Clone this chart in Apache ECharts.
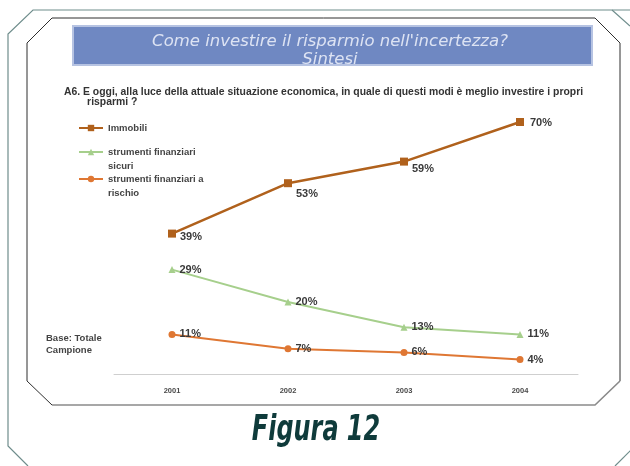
<!DOCTYPE html>
<html>
<head>
<meta charset="utf-8">
<script src="https://cdn.jsdelivr.net/npm/echarts@6/dist/echarts.min.js"></script>
<style>
  html, body { margin: 0; padding: 0; background: #fff; }
  #chart { width: 630px; height: 466px; }
</style>
</head>
<body>
<div id="chart"></div>
<script>
// anni
const years = ['2001', '2002', '2003', '2004']
// quote % per modalità di investimento
const immobili = [39, 53, 59, 70]
const sicuri = [29, 20, 13, 11]
const rischio = [11, 7, 6, 4]

const seriesNames = ['Immobili', 'strumenti finanziari\nsicuri', 'strumenti finanziari a\nrischio']

// spostamento delle etichette di Immobili (sotto la linea sui primi punti)
const immobiliLabelShift = [[0, 3], [0, 11], [0, 7], [2, 1]]

const baseFont = 'Arial, Liberation Sans, sans-serif'

const labelStyle = {
  show: true,
  position: 'right',
  distance: 4,
  fontSize: 11,
  fontWeight: 'bold',
  color: '#3a3a3a',
  fontFamily: baseFont,
  formatter: '{c}%'
}

const legendText = {
  fontSize: 9.5,
  fontWeight: 'bold',
  color: '#444',
  lineHeight: 14,
  fontFamily: baseFont
}

const frameColor = '#6f8d8c'
const innerColor = '#2e2e2e'

let chart = echarts.init(document.getElementById('chart'), null, { renderer: 'canvas' })

// una legenda per voce: l'icona resta sulla prima riga del testo
function legendAt (name, top, twoLines) {
  return {
    orient: 'vertical',
    left: 78,
    top: top,
    padding: 0,
    itemWidth: 24,
    itemHeight: 8,
    data: [name],
    formatter: n => (twoLines ? '\n' + n : n),
    textStyle: legendText
  }
}

let option = {
  backgroundColor: '#fff',
  animation: false,
  title: {
    text: "Come investire il risparmio nell'incertezza?\nSintesi",
    left: 325,
    top: 28,
    textAlign: 'center',
    textStyle: {
      color: '#dde3f3',
      fontSize: 16.5,
      fontStyle: 'italic',
      fontWeight: 'normal',
      lineHeight: 18,
      fontFamily: "'DejaVu Sans', sans-serif"
    }
  },
  legend: [
    legendAt(seriesNames[0], 121, false),
    legendAt(seriesNames[1], 131, true),
    legendAt(seriesNames[2], 158, true)
  ],
  grid: {
    left: 114,
    right: 52,
    top: 86,
    bottom: 92
  },
  xAxis: {
    type: 'category',
    data: years,
    boundaryGap: true,
    axisLine: { lineStyle: { color: '#cfcfcf', width: 1 } },
    axisTick: { show: false },
    axisLabel: {
      margin: 13,
      fontSize: 7.5,
      fontWeight: 'bold',
      color: '#4a4a4a',
      fontFamily: baseFont
    }
  },
  yAxis: {
    type: 'value',
    min: 0,
    max: 80,
    show: false,
    splitLine: { show: false }
  },
  graphic: [
    // cornice esterna
    {
      type: 'polyline',
      silent: true,
      shape: { points: [[633, 10], [33, 10], [8, 34], [8, 446], [28, 466]] },
      style: { stroke: frameColor, lineWidth: 1.2, fill: null }
    },
    {
      type: 'polyline',
      silent: true,
      shape: { points: [[612, 10], [630, 26]] },
      style: { stroke: frameColor, lineWidth: 1.2, fill: null }
    },
    {
      type: 'polyline',
      silent: true,
      shape: { points: [[615, 466], [631, 450]] },
      style: { stroke: frameColor, lineWidth: 1.2, fill: null }
    },
    // cornice interna
    {
      type: 'polyline',
      silent: true,
      shape: { points: [[620, 381], [620, 43], [595, 18], [52, 18], [27, 43], [27, 381], [52, 405]] },
      style: { stroke: innerColor, lineWidth: 1, fill: null }
    },
    {
      type: 'polyline',
      silent: true,
      shape: { points: [[52, 405], [595, 405], [620, 381]] },
      style: { stroke: '#8a8a8a', lineWidth: 1.6, fill: null }
    },
    // fascia del titolo
    {
      type: 'rect',
      silent: true,
      z: -1,
      shape: { x: 73, y: 26, width: 519, height: 39 },
      style: { fill: '#6f88c2', stroke: '#b6c3e2', lineWidth: 2 }
    },
    {
      type: 'text',
      silent: true,
      left: 64,
      top: 87,
      style: {
        text: 'A6. E oggi, alla luce della attuale situazione economica, in quale di questi modi è meglio investire i propri\n        risparmi ?',
        fontSize: 10.4,
        fontWeight: 'bold',
        fill: '#333',
        lineHeight: 10,
        fontFamily: baseFont
      }
    },
    {
      type: 'text',
      silent: true,
      left: 46,
      top: 332,
      style: {
        text: 'Base: Totale\nCampione',
        fontSize: 9.5,
        fontWeight: 'bold',
        fill: '#444',
        lineHeight: 12,
        fontFamily: baseFont
      }
    },
    {
      type: 'text',
      silent: true,
      x: 316,
      y: 431,
      scaleX: 0.76,
      style: {
        text: 'Figura 12',
        fontSize: 35,
        fontWeight: 'bold',
        fontStyle: 'italic',
        fill: '#0f3b3b',
        align: 'center',
        verticalAlign: 'middle',
        fontFamily: "'DejaVu Sans Condensed', 'DejaVu Sans', sans-serif"
      }
    }
  ],
  series: [
    {
      name: seriesNames[0],
      type: 'line',
      data: immobili.map((v, i) => ({
        value: v,
        label: { offset: immobiliLabelShift[i] }
      })),
      symbol: 'rect',
      symbolSize: 8,
      itemStyle: { color: '#b0611c' },
      lineStyle: { color: '#b0611c', width: 2.5 },
      label: labelStyle
    },
    {
      name: seriesNames[1],
      type: 'line',
      data: sicuri,
      symbol: 'triangle',
      symbolSize: 7,
      itemStyle: { color: '#a6cf8c' },
      lineStyle: { color: '#a6cf8c', width: 2 },
      label: labelStyle
    },
    {
      name: seriesNames[2],
      type: 'line',
      data: rischio,
      symbol: 'circle',
      symbolSize: 7,
      itemStyle: { color: '#df7733' },
      lineStyle: { color: '#df7733', width: 2 },
      label: labelStyle
    }
  ]
}

chart.setOption(option)
</script>
</body>
</html>
